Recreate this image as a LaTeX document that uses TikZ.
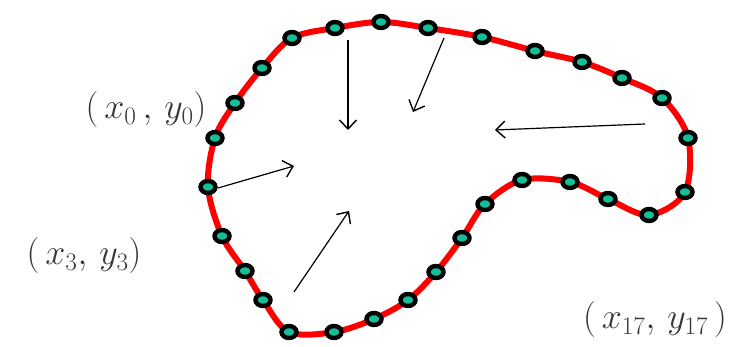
\documentclass[tikz,border=0pt]{standalone}
\usepackage{fix-cm}
\usetikzlibrary{arrows.meta,shapes.geometric}
\definecolor{dotfill}{RGB}{20,190,150}
\definecolor{lab}{RGB}{55,55,55}
\begin{document}
\begin{tikzpicture}[x=1pt,y=-1pt,
  dot/.style={ellipse,draw=black,line width=4.4pt,fill=dotfill,minimum width=15pt,minimum height=12pt,inner sep=0pt},
  arr/.style={draw=black,line width=1.2pt,-{Straight Barb[length=9pt,width=17pt,line width=1.4pt]}},
  lbl/.style={text=lab,font=\fontsize{36}{40}\selectfont,inner sep=0pt}]
\useasboundingbox (0,0) rectangle (750,347);
\draw[red,line width=6pt,line join=round] plot[smooth cycle,tension=0.55] coordinates {
 (335,28) (381,22) (428,28) (482,37) (535,51) (582,62) (622,78) (662,98) (688,138)
 (685,192) (649,215) (608,199) (570,182) (522,180) (485,204) (462,238) (436,272)
 (408,300) (374,319) (334,332) (289,332) (263,300) (245,271) (222,236) (208,187)
 (215,138) (235,103) (262,68) (292,38)};
\foreach \n/\p in {1/{335,28},2/{381,22},3/{428,28},4/{482,37},5/{535,51},6/{582,62},7/{622,78},8/{662,98},9/{688,138},
 10/{685,192},11/{649,215},12/{608,199},13/{570,182},14/{522,180},15/{485,204},16/{462,238},17/{436,272},
 18/{408,300},19/{374,319},20/{334,332},21/{289,332},22/{263,300},23/{245,271},24/{222,236},25/{208,187},
 26/{215,138},27/{235,103},28/{262,68},29/{292,38}}
  \node[dot] (p\n) at (\p) {};
\coordinate (a1s) at (348,40);  \coordinate (a1e) at (348,130);
\coordinate (a2s) at (444,38);  \coordinate (a2e) at (413,112);
\coordinate (a3s) at (645,124); \coordinate (a3e) at (495,130);
\coordinate (a4s) at (218,188); \coordinate (a4e) at (294,166);
\coordinate (a5s) at (294,292); \coordinate (a5e) at (349,211);
\draw[arr] (a1s) -- (a1e);
\draw[arr] (a2s) -- (a2e);
\draw[arr] (a3s) -- (a3e);
\draw[arr] (a4s) -- (a4e);
\draw[arr] (a5s) -- (a5e);
\node[lbl] (l0) at (146,110) {$(\,x_0\,,\,y_0)$};
\node[lbl] (l3) at (84,256) {$(\,x_3,\,y_3)$};
\node[lbl] (l17) at (655,320) {$(\,x_{17},\,y_{17}\,)$};
\end{tikzpicture}
\end{document}
